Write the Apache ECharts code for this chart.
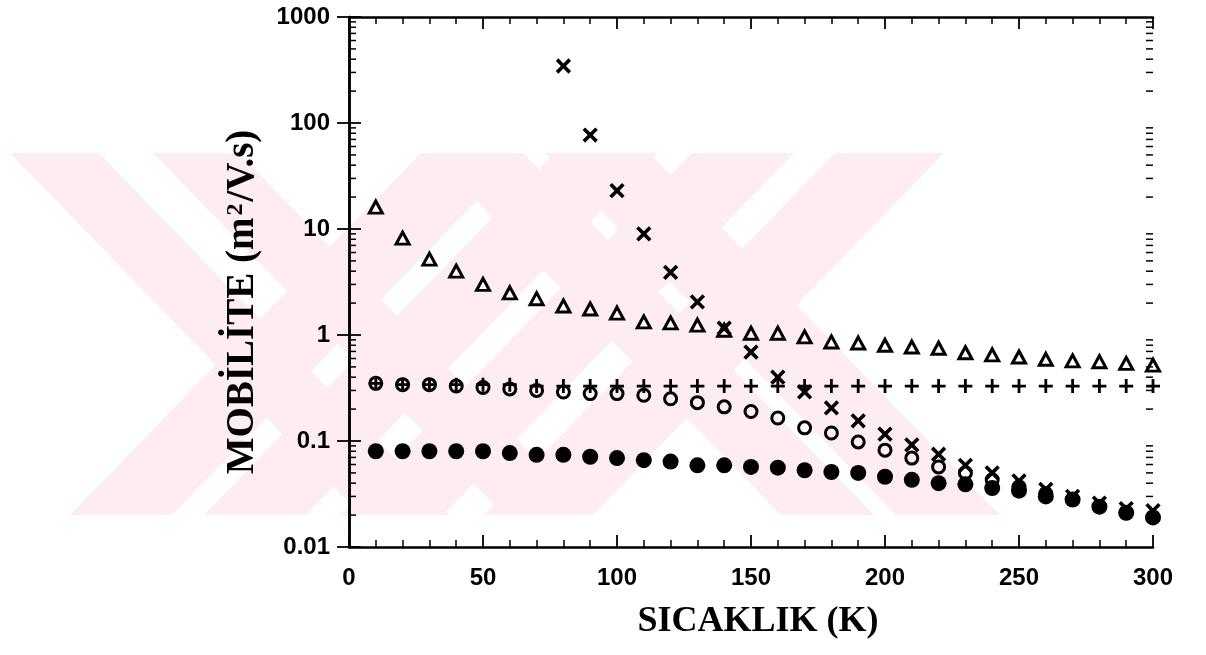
<!DOCTYPE html>
<html>
<head>
<meta charset="utf-8">
<script src="https://cdn.jsdelivr.net/npm/echarts@6/dist/echarts.min.js"></script>
<style>
  html, body { margin: 0; padding: 0; background: #fff; }
  #chart { width: 1206px; height: 655px; }
</style>
</head>
<body>
<div id="chart"></div>
<script>
/* Mobilite - sicaklik, log y */
var temps = [10,20,30,40,50,60,70,80,90,100,110,120,130,140,150,160,170,180,190,200,210,220,230,240,250,260,270,280,290,300];
var triangles = [16.1,8.2,5.2,4.0,3.0,2.5,2.2,1.88,1.76,1.61,1.33,1.30,1.24,1.11,1.04,1.04,0.96,0.86,0.84,0.80,0.77,0.75,0.68,0.65,0.62,0.59,0.57,0.56,0.54,0.52];
var crosses = [null,null,null,null,null,null,null,345,77,23,9.0,3.9,2.05,1.16,0.69,0.40,0.29,0.205,0.155,0.116,0.092,0.075,0.059,0.050,0.042,0.035,0.030,0.026,0.023,0.022];
var pluses = [0.35,0.34,0.34,0.34,0.34,0.34,0.33,0.33,0.33,0.33,0.33,0.33,0.33,0.33,0.33,0.33,0.33,0.33,0.33,0.33,0.33,0.33,0.33,0.33,0.33,0.33,0.33,0.33,0.33,0.33];
var circles = [0.35,0.34,0.34,0.33,0.32,0.31,0.30,0.29,0.28,0.28,0.27,0.25,0.23,0.21,0.19,0.165,0.133,0.119,0.098,0.082,0.069,0.057,0.050,0.043,0.037,0.032,0.028,0.024,0.021,0.019];
var dots = [0.080,0.080,0.080,0.080,0.080,0.077,0.074,0.074,0.071,0.069,0.066,0.064,0.059,0.059,0.057,0.056,0.053,0.051,0.050,0.046,0.043,0.040,0.039,0.036,0.034,0.030,0.028,0.024,0.021,0.019];
var xTicks = [0,50,100,150,200,250,300];
var yTicks = [0.01,0.1,1,10,100,1000];

// minor ticks of the log axis (2..9 in each decade)
var logMinor = [];
for (var d = 0; d < yTicks.length - 1; d++) {
  for (var k = 2; k <= 9; k++) logMinor.push([0, +(yTicks[d] * k).toPrecision(3)]);
}

function pairs(vals) {
  return vals.map(function(v, i){ return [temps[i], v]; }).filter(function(p){ return p[1] != null; });
}

var ink = '#000';
var pink = '#fdedf0';
var tickFont = { color: ink, fontFamily: 'Liberation Sans, Arial, sans-serif', fontWeight: 'bold', fontSize: 24 };
var plusPath = 'path://M4,0L6,0L6,4L10,4L10,6L6,6L6,10L4,10L4,6L0,6L0,4L4,4Z';
var serif = '"Liberation Serif", "Times New Roman", serif';

// faint watermark stripes: [top-left x, width, direction]
var stripes = [[10,89,1],[153,86,1],[430,93,1],[545,104,1],[421,102,-1],[555,102,-1],[692,102,-1],[835,109,-1]];
var wmTop = 153, wmBot = 515, wmShift = 351;
var watermark = stripes.map(function(s){
  var dx = s[2] * wmShift;
  return { type: 'polygon', z: -10, silent: true,
    shape: { points: [[s[0], wmTop], [s[0] + s[1], wmTop], [s[0] + s[1] + dx, wmBot], [s[0] + dx, wmBot]] },
    style: { fill: pink } };
});

var c = echarts.init(document.getElementById('chart'));
c.setOption({
  backgroundColor: '#fff',
  animation: false,
  grid: { left: 349, right: 53, top: 17, bottom: 108, containLabel: false },
  xAxis: [{
    type: 'value', min: 0, max: 300, interval: 50, position: 'bottom',
    axisLine: { lineStyle: { color: ink, width: 2.5 } },
    axisTick: { inside: true, length: 12, lineStyle: { color: ink, width: 1.8 } },
    minorTick: { show: true, splitNumber: 5, length: 7, lineStyle: { color: ink, width: 1.5 } },
    axisLabel: Object.assign({ margin: 19, formatter: function(v){ return String(v); } }, tickFont),
    splitLine: { show: false }
  }, {
    type: 'value', min: 0, max: 300, interval: 50, position: 'top',
    axisLine: { lineStyle: { color: ink, width: 2.5 } },
    axisTick: { inside: true, length: 12, lineStyle: { color: ink, width: 1.8 } },
    minorTick: { show: true, splitNumber: 5, length: 7, lineStyle: { color: ink, width: 1.5 } },
    axisLabel: { show: false },
    splitLine: { show: false }
  }],
  yAxis: [{
    type: 'log', logBase: 10, min: 0.01, max: 1000, position: 'left',
    axisLine: { lineStyle: { color: ink, width: 2.5 } },
    axisTick: { inside: true, length: 12, lineStyle: { color: ink, width: 1.8 } },
    axisLabel: Object.assign({ margin: 19, formatter: function(v){ return String(+(+v).toPrecision(3)); } }, tickFont),
    splitLine: { show: false }
  }, {
    type: 'log', logBase: 10, min: 0.01, max: 1000, position: 'right',
    axisLine: { lineStyle: { color: ink, width: 2.5 } },
    axisTick: { inside: true, length: 12, lineStyle: { color: ink, width: 1.8 } },
    axisLabel: { show: false },
    splitLine: { show: false }
  }],
  graphic: watermark.concat([
    { type: 'text', x: 758, y: 622, z: 10,
      style: { text: 'SICAKLIK (K)', fill: ink, font: 'bold 36px ' + serif,
        textAlign: 'center', textVerticalAlign: 'middle' } },
    { type: 'text', x: 243, y: 302, rotation: Math.PI / 2, z: 10,
      style: { text: 'MOBİLİTE (m{sup|2}/V.s)', fill: ink,
        font: 'bold 39px ' + serif,
        textAlign: 'center', textVerticalAlign: 'middle',
        rich: { sup: { fontSize: 24, fontWeight: 'bold', fontFamily: serif, verticalAlign: 'top', lineHeight: 24, padding: [0, 2, 22, 2] } } } }
  ]),
  series: [{
    type: 'custom', xAxisIndex: 0, yAxisIndex: 0, silent: true, z: 5,
    data: logMinor,
    renderItem: function(params, api){
      var v = api.value(1);
      var a = api.coord([0, v]);
      var b = api.coord([300, v]);
      var st = { stroke: ink, lineWidth: 1.5 };
      return { type: 'group', children: [
        { type: 'line', shape: { x1: a[0], y1: a[1], x2: a[0] + 7, y2: a[1] }, style: st },
        { type: 'line', shape: { x1: b[0] - 7, y1: b[1], x2: b[0], y2: b[1] }, style: st }
      ] };
    }
  }, {
    name: 'triangles', type: 'scatter', data: pairs(triangles), symbol: 'triangle', symbolSize: [13, 12],
    itemStyle: { color: '#fff', borderColor: ink, borderWidth: 3, opacity: 1 }
  }, {
    name: 'circles', type: 'scatter', data: pairs(circles), symbol: 'circle', symbolSize: 12,
    itemStyle: { color: 'transparent', borderColor: ink, borderWidth: 3, opacity: 1 }
  }, {
    name: 'pluses', type: 'scatter', data: pairs(pluses), symbol: plusPath, symbolSize: 14,
    itemStyle: { color: ink, opacity: 1 }
  }, {
    name: 'crosses', type: 'scatter', data: pairs(crosses), symbol: plusPath, symbolSize: 18, symbolRotate: 45,
    itemStyle: { color: ink, opacity: 1 }
  }, {
    name: 'dots', type: 'scatter', data: pairs(dots), symbol: 'circle', symbolSize: 16,
    itemStyle: { color: ink, opacity: 1 }
  }]
});
window.addEventListener('resize', function(){ c.resize(); });
</script>
</body>
</html>
